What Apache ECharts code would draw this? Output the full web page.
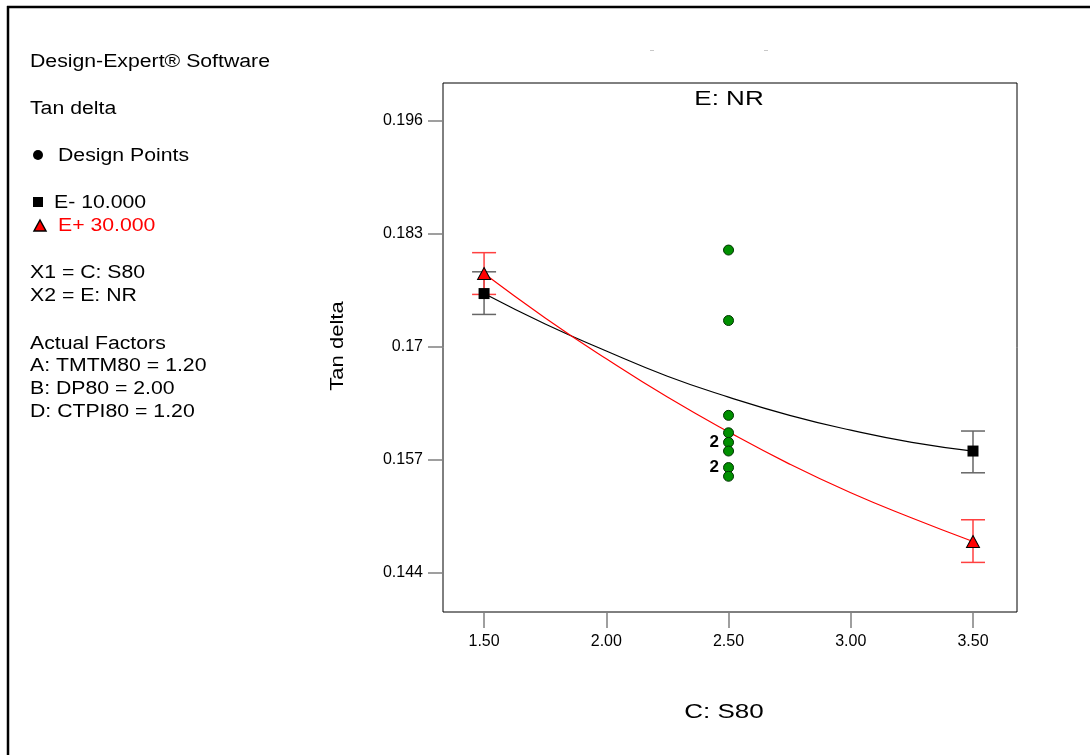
<!DOCTYPE html>
<html>
<head>
<meta charset="utf-8">
<title>Tan delta vs C: S80</title>
<script src="https://cdn.jsdelivr.net/npm/echarts@6/dist/echarts.min.js"></script>
<style>
  html, body { margin: 0; padding: 0; background: #fff; }
  #chart { width: 1090px; height: 755px; }
</style>
</head>
<body>
<div id="chart"></div>
<script>
// axis ticks
const xTicks = [1.5, 2.0, 2.5, 3.0, 3.5]
const yTicks = [0.144, 0.157, 0.17, 0.183, 0.196]

// fitted curves (E- = 10, E+ = 30)
const curveX = [1.5, 1.75, 2.0, 2.25, 2.5, 2.75, 3.0, 3.25, 3.5]
const lowCurve = [0.1761, 0.1726, 0.1695, 0.1666, 0.1642, 0.1621, 0.1604, 0.1590, 0.1580]
const highCurve = [0.1784, 0.1733, 0.1686, 0.1642, 0.1602, 0.1565, 0.1532, 0.1503, 0.1476]

// predicted means at the factor ends, with their bars
const factorX = [1.5, 3.5]
const lowMeans = [0.1761, 0.1580]
const lowLower = [0.1737, 0.1555]
const lowUpper = [0.1786, 0.1603]
const highMeans = [0.1784, 0.1476]
const highLower = [0.1760, 0.1452]
const highUpper = [0.1808, 0.1501]

// design points (all at C = 2.50)
const designX = 2.5
const designY = [0.1811, 0.1730, 0.1621, 0.1601, 0.1590, 0.1580, 0.1561, 0.1551]
const designCount = [1, 1, 1, 1, 2, 1, 2, 1]

const FONT = '"Liberation Sans", Arial, sans-serif'

function errorBars(lower, upper, color) {
  return {
    type: 'custom',
    z: 2,
    silent: true,
    encode: { x: 0, y: [1, 2] },
    data: factorX.map((x, i) => [x, lower[i], upper[i]]),
    renderItem(params, api) {
      const lo = api.coord([api.value(0), api.value(1)])
      const hi = api.coord([api.value(0), api.value(2)])
      const w = 12
      const style = { stroke: color, lineWidth: 1.5 }
      return {
        type: 'group',
        children: [
          { type: 'line', shape: { x1: lo[0], y1: lo[1], x2: hi[0], y2: hi[1] }, style },
          { type: 'line', shape: { x1: lo[0] - w, y1: lo[1], x2: lo[0] + w, y2: lo[1] }, style },
          { type: 'line', shape: { x1: hi[0] - w, y1: hi[1], x2: hi[0] + w, y2: hi[1] }, style },
        ],
      }
    },
  }
}

function txt(text, x, y, opts = {}) {
  return {
    type: 'text',
    x, y,
    rotation: opts.rotation || 0,
    scaleX: opts.scaleX || 1.18,
    style: {
      text,
      fill: opts.color || '#000',
      font: `${opts.size || 18}px ${FONT}`,
      textAlign: opts.align || 'left',
      textVerticalAlign: 'middle',
    },
  }
}

const infoText = [
  txt('Design-Expert® Software', 30, 62),
  txt('Tan delta', 30, 109),
  txt('Design Points', 58, 156),
  txt('E- 10.000', 54, 203),
  txt('E+ 30.000', 58, 226, { color: '#ff0000' }),
  txt('X1 = C: S80', 30, 273),
  txt('X2 = E: NR', 30, 296),
  txt('Actual Factors', 30, 344),
  txt('A: TMTM80 = 1.20', 30, 366),
  txt('B: DP80 = 2.00', 30, 389),
  txt('D: CTPI80 = 1.20', 30, 412),
]

const legendMarks = [
  { type: 'circle', shape: { cx: 38, cy: 155, r: 5 }, style: { fill: '#000' } },
  { type: 'rect', shape: { x: 33, y: 197, width: 10, height: 10 }, style: { fill: '#000' } },
  { type: 'polygon', shape: { points: [[40, 220], [46, 231], [34, 231]] }, style: { fill: '#ff0000', stroke: '#000', lineWidth: 1.5 } },
]

const frame = [
  { type: 'line', shape: { x1: 8, y1: 6, x2: 8, y2: 755 }, style: { stroke: '#000', lineWidth: 2.5 } },
  { type: 'line', shape: { x1: 7, y1: 7, x2: 1090, y2: 7 }, style: { stroke: '#000', lineWidth: 2.5 } },
  { type: 'rect', shape: { x: 650, y: 50, width: 4, height: 1 }, style: { fill: '#c8c8c8' } },
  { type: 'rect', shape: { x: 764, y: 50, width: 4, height: 1 }, style: { fill: '#c8c8c8' } },
]

const titles = [
  txt('E: NR', 729, 99, { size: 20, scaleX: 1.3, align: 'center' }),
  txt('C: S80', 724, 712, { size: 20, scaleX: 1.3, align: 'center' }),
  txt('Tan delta', 338, 346, { size: 19, scaleX: 1.16, align: 'center', rotation: Math.PI / 2 }),
]

const option = {
  animation: false,
  backgroundColor: '#fff',
  grid: {
    left: 443, top: 83, width: 574, height: 529,
    show: true, borderColor: '#000', borderWidth: 1,
  },
  xAxis: {
    type: 'value',
    min: 1.332, max: 3.68,
    axisLine: { show: false },
    splitLine: { show: false },
    axisTick: { show: true, length: 16, lineStyle: { color: '#808080', width: 1.5 }, customValues: xTicks },
    axisLabel: {
      customValues: xTicks, margin: 22,
      color: '#000', fontSize: 16, fontFamily: FONT,
      formatter: v => v.toFixed(2),
    },
  },
  yAxis: {
    type: 'value',
    min: 0.1395, max: 0.2003,
    axisLine: { show: false },
    splitLine: { show: false },
    axisTick: { show: true, length: 15, lineStyle: { color: '#808080', width: 1.5 }, customValues: yTicks },
    axisLabel: {
      customValues: yTicks, margin: 20,
      color: '#000', fontSize: 16, fontFamily: FONT,
      formatter: v => String(+v.toFixed(3)),
    },
  },
  graphic: [...frame, ...infoText, ...legendMarks, ...titles],
  series: [
    {
      name: 'E- 10.000 fit', type: 'line', smooth: true, symbol: 'none', z: 1,
      data: curveX.map((x, i) => [x, lowCurve[i]]),
      lineStyle: { color: '#000', width: 1.2 },
    },
    {
      name: 'E+ 30.000 fit', type: 'line', smooth: true, symbol: 'none', z: 1,
      data: curveX.map((x, i) => [x, highCurve[i]]),
      lineStyle: { color: '#ff0000', width: 1.2 },
    },
    errorBars(lowLower, lowUpper, '#666'),
    errorBars(highLower, highUpper, '#ff4040'),
    {
      name: 'E- 10.000', type: 'scatter', symbol: 'rect', symbolSize: 11, z: 3,
      data: factorX.map((x, i) => [x, lowMeans[i]]),
      itemStyle: { color: '#000', opacity: 1 },
    },
    {
      name: 'E+ 30.000', type: 'scatter', symbol: 'triangle', symbolSize: [13, 12], z: 4,
      data: factorX.map((x, i) => [x, highMeans[i]]),
      itemStyle: { color: '#ff0000', borderColor: '#000', borderWidth: 1, opacity: 1 },
    },
    {
      name: 'Design Points', type: 'scatter', symbol: 'circle', symbolSize: 10, z: 5,
      data: designY.map((y, i) => ({
        value: [designX, y],
        label: {
          show: designCount[i] > 1,
          formatter: String(designCount[i]),
          position: 'left', distance: 4,
          color: '#000', fontSize: 17, fontWeight: 'bold', fontFamily: FONT,
        },
      })),
      itemStyle: { color: '#009000', borderColor: '#003300', borderWidth: 1, opacity: 1 },
    },
  ],
}

const chart = echarts.init(document.getElementById('chart'))
chart.setOption(option)
</script>
</body>
</html>
